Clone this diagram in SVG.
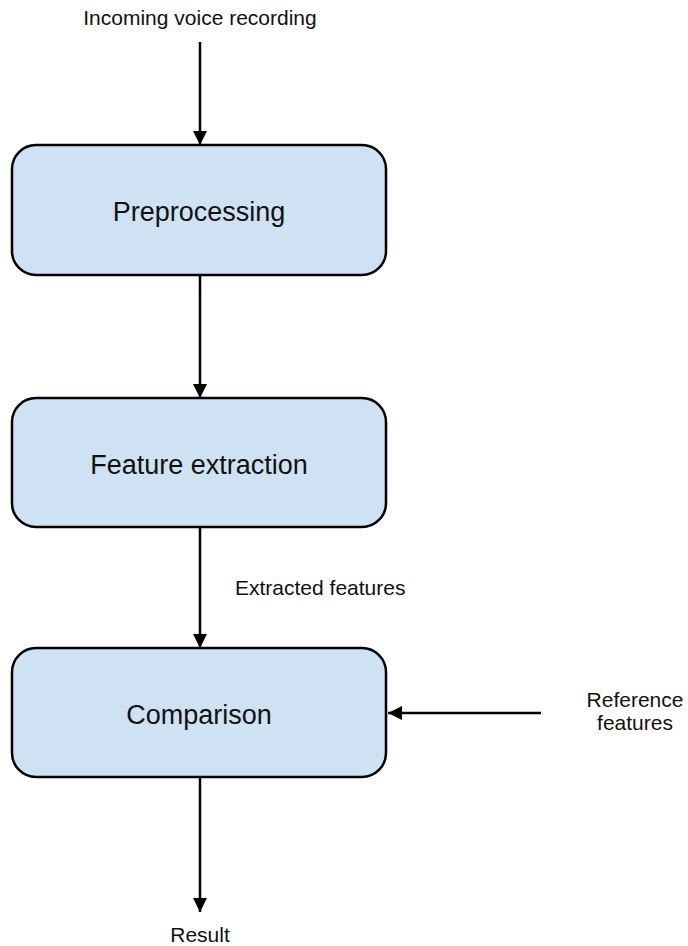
<svg xmlns="http://www.w3.org/2000/svg" width="688" height="946" viewBox="0 0 688 946">
<style>
.box{fill:#cfe2f3;stroke:#000;stroke-width:2.5}
.lbl{font-family:"Liberation Sans",Arial,sans-serif;font-size:27px;fill:#111;text-anchor:middle}
.sm{font-family:"Liberation Sans",Arial,sans-serif;font-size:21px;fill:#111}
.c{stroke:#000;stroke-width:2.5;fill:none;marker-end:url(#ah)}
</style>
<defs>
<marker id="ah" markerWidth="14" markerHeight="14" refX="14" refY="7" orient="auto" markerUnits="userSpaceOnUse" viewBox="0 0 14 14">
<path d="M0,0 L14,7 L0,14 Z" fill="#000"/>
</marker>
</defs>
<rect width="688" height="946" fill="#fff"/>
<g id="connectors">
<line class="c" x1="200" y1="42" x2="200" y2="145"/>
<line class="c" x1="200" y1="275" x2="200" y2="398"/>
<line class="c" x1="200" y1="527" x2="200" y2="648"/>
<line class="c" x1="200" y1="777" x2="200" y2="912"/>
<line class="c" x1="541" y1="713" x2="388" y2="713"/>
</g>
<g id="input"><text class="sm" x="200" y="25" text-anchor="middle">Incoming voice recording</text></g>
<g id="preprocessing">
<rect class="box" x="12" y="145" width="374" height="130" rx="24"/>
<text class="lbl" x="199" y="221">Preprocessing</text>
</g>
<g id="feature-extraction">
<rect class="box" x="12" y="398" width="374" height="129" rx="24"/>
<text class="lbl" x="199" y="474">Feature extraction</text>
</g>
<g id="extracted-label"><text class="sm" x="235" y="595">Extracted features</text></g>
<g id="comparison">
<rect class="box" x="12" y="648" width="374" height="129" rx="24"/>
<text class="lbl" x="199" y="724">Comparison</text>
</g>
<g id="reference"><text class="sm" x="635" y="707" text-anchor="middle">Reference</text><text class="sm" x="635" y="730" text-anchor="middle">features</text></g>
<g id="result"><text class="sm" x="200" y="942" text-anchor="middle">Result</text></g>
</svg>
